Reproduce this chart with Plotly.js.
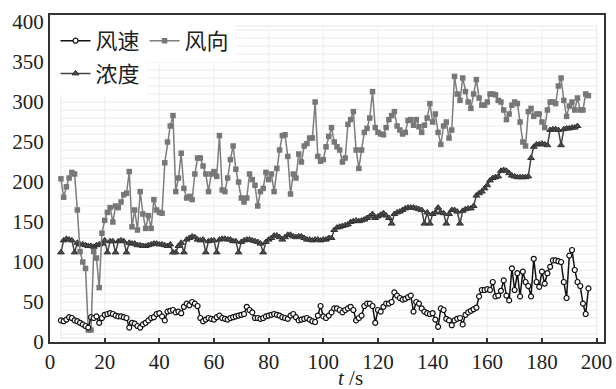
<!DOCTYPE html>
<html>
<head>
<meta charset="utf-8">
<script src="https://cdn.plot.ly/plotly-3.0.1.min.js"></script>
</head>
<body style="margin:0;padding:0;background:#fff;">
<div id="chart" style="width:616px;height:389px;"></div>
<script>
const seriesNames = ["风速", "风向", "浓度"];
const xTicks = [0, 20, 40, 60, 80, 100, 120, 140, 160, 180, 200];
const yTicks = [0, 50, 100, 150, 200, 250, 300, 350, 400];
const xTitle = "<i>t</i> /s";

const time = [4,5,6,7,8,9,10,11,12,13,14,15,16,17,18,19,20,21,22,23,24,25,26,27,28,29,30,31,32,33,34,35,36,37,38,39,40,41,42,43,44,45,46,47,48,49,50,51,52,53,54,55,56,57,58,59,60,61,62,63,64,65,66,67,68,69,70,71,72,73,74,75,76,77,78,79,80,81,82,83,84,85,86,87,88,89,90,91,92,93,94,95,96,97,98,99,100,101,102,103,104,105,106,107,108,109,110,111,112,113,114,115,116,117,118,119,120,121,122,123,124,125,126,127,128,129,130,131,132,133,134,135,136,137,138,139,140,141,142,143,144,145,146,147,148,149,150,151,152,153,154,155,156,157,158,159,160,161,162,163,164,165,166,167,168,169,170,171,172,173,174,175,176,177,178,179,180,181,182,183,184,185,186,187,188,189,190,191,192,193,194,195,196,197];

const windSpeed = [27,26,28,31,30,27,26,24,22,20,18,31,30,32,24,30,34,35,36,35,33,32,32,31,30,18,24,23,20,18,22,24,27,30,31,35,36,32,27,38,39,40,37,38,36,44,48,46,50,48,45,30,26,28,30,29,28,31,33,30,29,28,30,31,32,33,34,35,44,40,37,30,30,29,30,32,33,34,35,34,33,31,30,29,33,35,31,27,28,29,30,28,26,25,33,45,32,30,33,37,42,42,40,37,40,42,44,40,27,30,33,45,48,48,45,24,40,38,44,48,48,50,62,58,55,53,54,56,58,38,50,48,42,38,36,35,36,28,19,42,40,29,27,21,27,29,30,22,34,37,39,41,43,57,65,65,66,65,75,57,58,64,77,58,52,92,65,86,57,88,75,70,57,104,75,69,88,73,86,94,102,102,101,100,75,55,108,115,90,75,70,48,35,67];

const windDir = [204,181,194,205,212,210,165,113,100,92,15,15,113,105,68,136,152,162,168,150,170,168,175,184,186,213,144,165,140,188,160,142,158,142,178,165,162,161,224,250,270,283,188,205,236,192,180,182,178,210,230,230,220,210,188,210,213,207,258,190,188,205,228,245,216,200,180,175,180,210,203,196,170,188,192,212,203,210,188,217,240,258,259,232,185,210,205,235,225,245,248,255,255,300,232,226,228,244,257,268,250,244,240,225,230,272,278,288,240,217,240,262,267,280,313,268,262,260,259,268,278,283,288,270,265,260,262,277,278,271,278,269,262,271,280,298,275,285,262,247,270,275,255,265,332,310,302,330,313,300,292,310,328,305,296,296,300,310,310,309,302,300,290,278,285,296,300,298,275,250,245,288,292,282,285,285,275,268,290,300,300,298,320,330,302,282,295,300,290,305,290,290,310,308];

const concentration = [112,127,129,128,127,112,124,122,122,121,120,120,119,121,122,123,127,112,126,126,112,126,127,126,112,124,123,123,121,121,120,120,121,122,123,123,122,122,121,120,122,112,112,120,124,112,128,130,132,131,128,127,128,112,126,127,127,112,128,129,129,128,128,126,126,112,125,127,128,128,127,126,125,123,112,125,128,130,133,133,131,128,131,134,134,132,131,132,132,130,128,128,127,128,128,127,128,128,130,130,140,143,144,145,146,147,150,151,152,151,152,153,155,157,160,155,157,159,161,158,155,148,160,162,163,165,167,168,168,168,167,166,165,148,162,148,160,162,168,162,161,148,160,165,165,163,148,164,166,167,167,170,183,186,188,192,196,202,205,206,207,214,215,214,211,208,207,206,206,206,206,207,230,244,247,247,248,247,246,265,266,266,265,246,266,267,267,268,268,270,null,null,null,null];

const FONT = "Times New Roman, Liberation Serif, Noto Sans CJK SC, serif";

const traces = [
  {
    x: time, y: concentration, name: seriesNames[2], type: "scatter", mode: "lines+markers",
    legend: "legend2",
    line: {color: "#444444", width: 1.5},
    marker: {symbol: "triangle-up", size: 6, color: "#4a4a4a", line: {color: "#333333", width: 1}}
  },
  {
    x: time, y: windDir, name: seriesNames[1], type: "scatter", mode: "lines+markers",
    legendrank: 2,
    line: {color: "#7d7d7d", width: 1.5},
    marker: {symbol: "square", size: 5.5, color: "#777777"}
  },
  {
    x: time, y: windSpeed, name: seriesNames[0], type: "scatter", mode: "lines+markers",
    legendrank: 1,
    line: {color: "#111111", width: 1.5},
    marker: {symbol: "circle", size: 5, color: "#ffffff", line: {color: "#111111", width: 1.2}}
  }
];

// light background grid panel (styling only)
const shapes = [];
for (let v = 10; v <= 390; v += 10) {
  shapes.push({type: "line", xref: "x", yref: "y", x0: 4, x1: 200, y0: v, y1: v,
    line: {color: "#ebebeb", width: 1}, layer: "below"});
}
for (let v = 20; v <= 180; v += 20) {
  shapes.push({type: "line", xref: "x", yref: "y", x0: v, x1: v, y0: 5, y1: 395,
    line: {color: "#f0f0f0", width: 1}, layer: "below"});
}
shapes.push({type: "rect", xref: "x", yref: "y", x0: 4, x1: 200, y0: 5, y1: 395,
  line: {color: "#e6e6e6", width: 1}, layer: "below"});

const layout = {
  width: 616, height: 389,
  margin: {l: 50, r: 12, t: 15, b: 47},
  paper_bgcolor: "#ffffff", plot_bgcolor: "#ffffff",
  font: {family: FONT, size: 21, color: "#222222"},
  showlegend: true,
  xaxis: {
    range: [0, 202.7], tickvals: xTicks, ticktext: xTicks.map(String),
    showgrid: false, zeroline: false, showline: true, mirror: true,
    linecolor: "#333333", linewidth: 2,
    ticks: "inside", ticklen: 4, tickcolor: "#333333", tickwidth: 1.5
  },
  yaxis: {
    range: [0, 408.75], tickvals: yTicks, ticktext: yTicks.map(String),
    showgrid: false, zeroline: false, showline: true, mirror: true,
    linecolor: "#333333", linewidth: 2, ticks: ""
  },
  legend: {
    orientation: "h", x: 0.01, y: 0.985, xanchor: "left", yanchor: "top",
    bgcolor: "#ffffff", borderwidth: 0, traceorder: "normal",
    font: {size: 22}, itemwidth: 30
  },
  legend2: {
    orientation: "h", x: 0.01, y: 0.885, xanchor: "left", yanchor: "top",
    bgcolor: "#ffffff", borderwidth: 0,
    font: {size: 22}, itemwidth: 30
  },
  shapes: shapes,
  annotations: [{
    text: xTitle, xref: "x", yref: "paper", x: 110, y: -0.11, yanchor: "middle",
    showarrow: false, font: {size: 21}
  }]
};

Plotly.newPlot("chart", traces, layout, {displayModeBar: false});
</script>
</body>
</html>
